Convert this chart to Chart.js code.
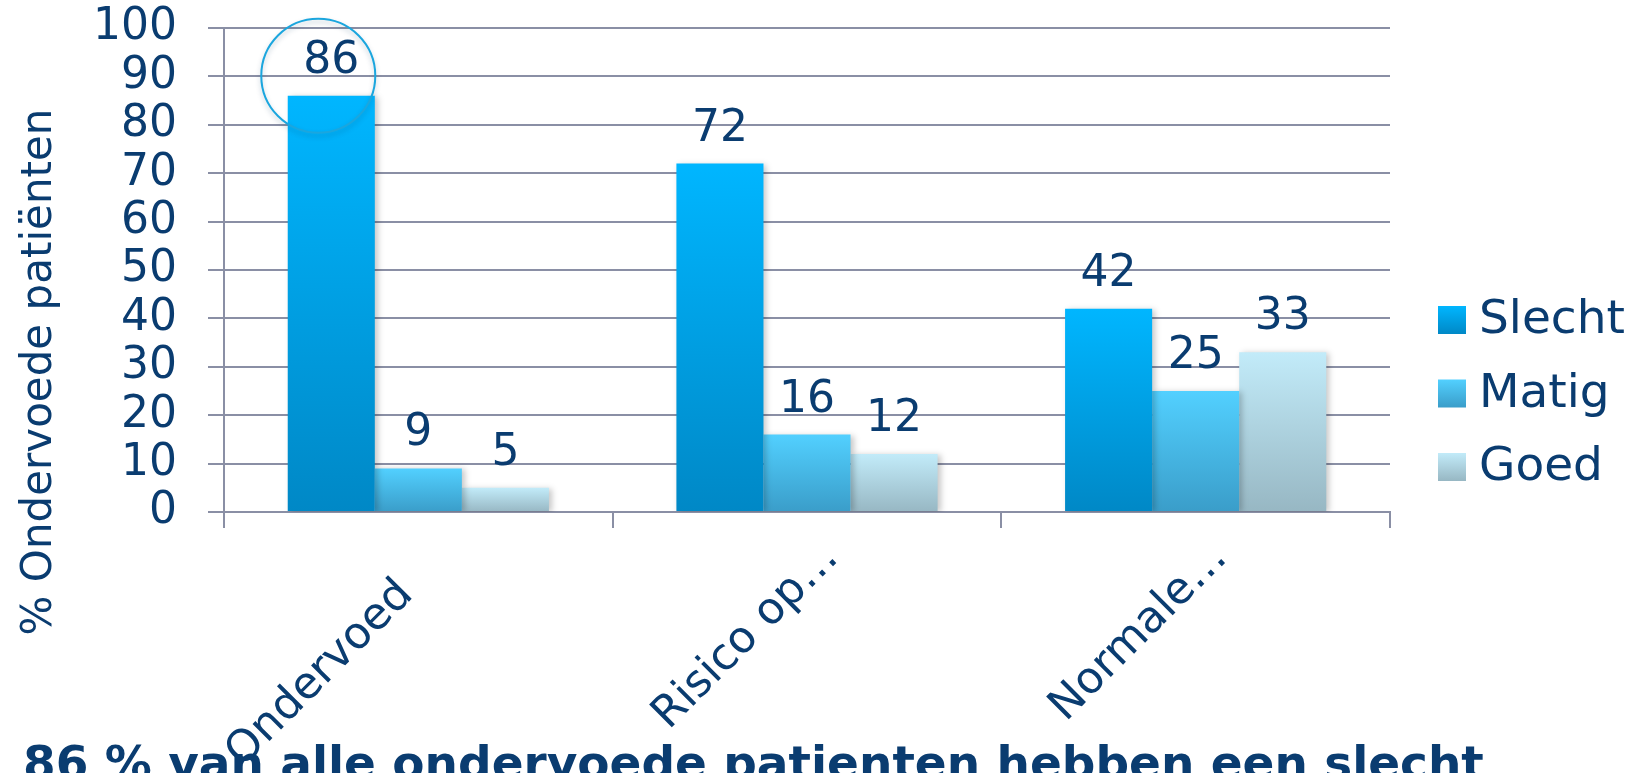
<!DOCTYPE html>
<html>
<head>
<meta charset="utf-8">
<script src="https://cdn.jsdelivr.net/npm/chart.js@4.4.0/dist/chart.umd.min.js"></script>
<style>
html,body{margin:0;padding:0;background:#fff;}
#wrap{width:1633px;height:773px;position:relative;}
</style>
</head>
<body>
<div id="wrap"><canvas id="c" width="1633" height="773"></canvas></div>
<script>
const categories = ['Ondervoed', 'Risico op…', 'Normale…'];
const seriesNames = ['Slecht', 'Matig', 'Goed'];
const slecht = [86, 72, 42];
const matig = [9, 16, 25];
const goed = [5, 12, 33];
const yAxisTitle = '% Ondervoede patiënten';
const bottomText = '86 % van alle ondervoede patienten hebben een slecht';

const TEXT = '#0A3C70';
const GRID = '#8A8FA5';
const FONT = "'DejaVu Sans', Verdana, sans-serif";
const gradStops = [
  ['#00B6FF', '#0088C6'],
  ['#52D0FF', '#3A9DC9'],
  ['#C2EBF9', '#97B7C3']
];

function barGradient(i) {
  return function(ctx) {
    const chart = ctx.chart;
    if (!chart.chartArea || ctx.type !== 'data') return gradStops[i][0];
    const ys = chart.scales.y;
    const top = ys.getPixelForValue(ctx.raw);
    const bot = ys.getPixelForValue(0);
    if (!isFinite(top) || !isFinite(bot) || top === bot) return gradStops[i][0];
    const g = chart.ctx.createLinearGradient(0, top, 0, bot);
    g.addColorStop(0, gradStops[i][0]);
    g.addColorStop(1, gradStops[i][1]);
    return g;
  };
}

const extras = {
  id: 'extras',
  beforeDatasetsDraw(chart) {
    const c = chart.ctx;
    c.save();
    c.shadowColor = 'rgba(0,0,0,0.22)';
    c.shadowBlur = 6;
    c.shadowOffsetX = 3;
    c.shadowOffsetY = 1;
  },
  afterDatasetsDraw(chart) {
    const c = chart.ctx;
    c.restore();
    // data labels
    c.save();
    c.fillStyle = TEXT;
    c.font = '44px ' + FONT;
    c.textAlign = 'center';
    c.textBaseline = 'alphabetic';
    chart.data.datasets.forEach((ds, di) => {
      chart.getDatasetMeta(di).data.forEach((bar, i) => {
        c.fillText(String(ds.data[i]), bar.x, bar.y - 23);
      });
    });
    c.restore();
    // highlight circle around first label
    const b0 = chart.getDatasetMeta(0).data[0];
    c.save();
    c.shadowColor = 'rgba(0,60,100,0.25)';
    c.shadowBlur = 5;
    c.shadowOffsetY = 3;
    c.strokeStyle = '#1BA6DE';
    c.lineWidth = 2;
    c.beginPath();
    c.arc(b0.x - 13, b0.y - 20, 57, 0, Math.PI * 2);
    c.stroke();
    c.restore();
  },
  afterDraw(chart) {
    const c = chart.ctx;
    const ca = chart.chartArea;
    // category labels, rotated 45deg
    const xs = chart.scales.x;
    c.save();
    c.fillStyle = TEXT;
    c.font = '44px ' + FONT;
    c.textAlign = 'right';
    c.textBaseline = 'middle';
    chart.data.labels.forEach((lab, i) => {
      const tx = xs.getPixelForTick(i);
      const shift = lab.endsWith('…') ? 52 : 0;
      const ax = tx - 12 + shift * Math.SQRT1_2;
      const ay = ca.bottom + 76 - shift * Math.SQRT1_2;
      c.save();
      c.translate(ax, ay);
      c.rotate(-Math.PI / 4);
      c.fillText(lab, 0, 0);
      c.restore();
    });
    c.restore();
    // y axis title
    c.save();
    c.fillStyle = TEXT;
    c.font = '42px ' + FONT;
    c.translate(40, 372);
    c.rotate(-Math.PI / 2);
    c.textAlign = 'center';
    c.textBaseline = 'middle';
    c.fillText(yAxisTitle, 0, 0);
    c.restore();
    // legend
    c.save();
    c.font = '47px ' + FONT;
    c.textBaseline = 'middle';
    c.textAlign = 'left';
    const lx = ca.right + 48;
    const cy0 = 320;
    seriesNames.forEach((n, i) => {
      const cy = cy0 + i * 73.5;
      const g = c.createLinearGradient(0, cy - 14, 0, cy + 14);
      g.addColorStop(0, gradStops[i][0]);
      g.addColorStop(1, gradStops[i][1]);
      c.fillStyle = g;
      c.fillRect(lx, cy - 14, 28, 28);
      c.fillStyle = TEXT;
      c.fillText(n, lx + 41, cy + 1);
    });
    c.restore();
    // bottom statement
    c.save();
    c.fillStyle = TEXT;
    c.font = 'bold 100px ' + FONT;
    const w100 = c.measureText(bottomText).width;
    const size = 100 * 1461 / w100;
    c.font = 'bold ' + size.toFixed(2) + 'px ' + FONT;
    c.textAlign = 'left';
    c.textBaseline = 'alphabetic';
    c.fillText(bottomText, 23, 745 + 0.729 * size);
    c.restore();
  }
};

const datasets = [slecht, matig, goed].map((arr, i) => ({
  label: seriesNames[i],
  data: arr,
  backgroundColor: barGradient(i),
  borderWidth: 0,
  categoryPercentage: 0.672,
  barPercentage: 1.0
}));

new Chart(document.getElementById('c'), {
  type: 'bar',
  data: { labels: categories, datasets },
  plugins: [extras],
  options: {
    responsive: false,
    animation: false,
    devicePixelRatio: 1,
    layout: { padding: { left: 0, right: 243, top: 0, bottom: 0 } },
    plugins: { legend: { display: false }, tooltip: { enabled: false }, title: { display: false } },
    scales: {
      y: {
        min: 0, max: 100,
        ticks: { stepSize: 10, autoSkip: false, color: TEXT, font: { family: FONT, size: 44, lineHeight: 1.0 }, padding: 31 },
        grid: { color: GRID, lineWidth: 2, tickLength: 16, tickColor: GRID },
        border: { display: true, color: GRID, width: 2 },
        afterFit(s) { s.width = 224; s.paddingTop = 28; s.paddingBottom = 0; }
      },
      x: {
        ticks: { display: false },
        grid: { drawOnChartArea: false, color: GRID, lineWidth: 2, tickLength: 16, tickColor: GRID },
        border: { display: true, color: GRID, width: 2 },
        afterFit(s) { s.height = 261; }
      }
    }
  }
});
</script>
</body>
</html>
